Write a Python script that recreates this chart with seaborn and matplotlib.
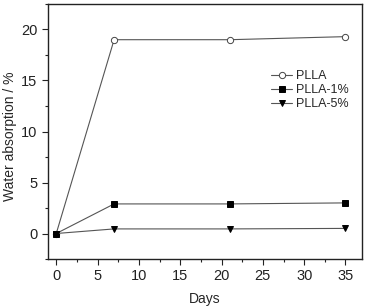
import matplotlib
matplotlib.use("Agg")
import matplotlib.pyplot as plt
import seaborn as sns
import pandas as pd
from matplotlib.ticker import MultipleLocator

# Data
days = [0, 7, 21, 35]
plla = [0.0, 19.0, 19.0, 19.3]
plla_1 = [0.0, 2.9, 2.9, 3.0]
plla_5 = [0.0, 0.45, 0.45, 0.5]
series_names = ["PLLA", "PLLA-1%", "PLLA-5%"]

df = pd.DataFrame({
    "Days": days * 3,
    "value": plla + plla_1 + plla_5,
    "sample": [n for n in series_names for _ in days],
})

sns.set_style("ticks")
plt.rcParams["font.family"] = ["Liberation Sans", "DejaVu Sans"]

fig = plt.figure(figsize=(3.66, 3.08), dpi=100)
ax = fig.add_axes([48 / 366, 1 - 259 / 308, 314 / 366, 255 / 308])

marker_styles = {"PLLA": ("o", "white", 4.5), "PLLA-1%": ("s", "black", 3.8), "PLLA-5%": ("v", "black", 4.5)}
for name in series_names:
    sub = df[df["sample"] == name]
    mk, fc, ms = marker_styles[name]
    sns.lineplot(data=sub, x="Days", y="value", ax=ax, color="#555555", lw=0.8,
                 marker=mk, markersize=ms, markerfacecolor=fc,
                 markeredgecolor="black" if mk != "o" else "#444444",
                 markeredgewidth=0.7, label=name)

ax.set_xlim(-1, 37)
ax.set_ylim(-2.5, 22.5)
ax.xaxis.set_major_locator(MultipleLocator(5))
ax.xaxis.set_minor_locator(MultipleLocator(2.5))
ax.yaxis.set_major_locator(MultipleLocator(5))
ax.yaxis.set_minor_locator(MultipleLocator(2.5))
ax.tick_params(which="both", direction="out", labelsize=10.5, width=0.8, colors="#222222")
ax.tick_params(which="major", length=4)
ax.tick_params(which="minor", length=2)
for s in ax.spines.values():
    s.set_linewidth(1.0)
    s.set_color("#222222")
ax.set_xlabel("Days", fontsize=10, labelpad=6)
ax.set_ylabel("Water absorption / %", fontsize=10)
ax.yaxis.set_label_coords(-0.10, 0.48)

ax.legend(loc="upper left", bbox_to_anchor=(0.69, 0.765), frameon=False, fontsize=9,
          handlelength=1.7, handletextpad=0.3, labelspacing=0.15, borderpad=0)

fig.savefig("out.png", dpi=100)
